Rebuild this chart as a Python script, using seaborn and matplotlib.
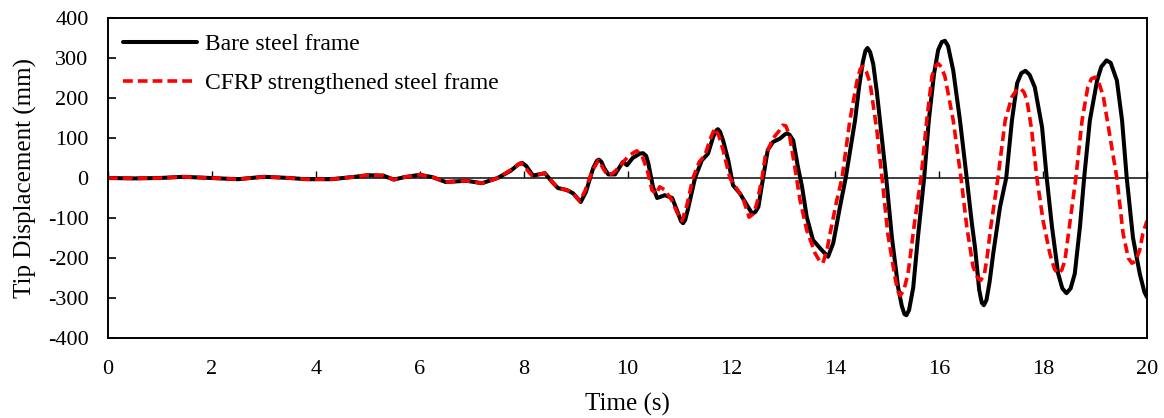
import numpy as np
import pandas as pd
import matplotlib
matplotlib.use("Agg")
import matplotlib.pyplot as plt
import seaborn as sns

# ---------------- data ----------------
bare_t = [0, 0.5, 1.0, 1.45, 2.0, 2.5, 3.0, 3.5, 3.8, 4.3, 4.75, 5.0, 5.3, 5.5, 5.7, 6.0, 6.25,
          6.5, 6.9, 7.2, 7.5, 7.75, 7.90, 7.97, 8.05, 8.18, 8.41, 8.55, 8.66, 8.83, 8.95, 9.10,
          9.20, 9.28, 9.34, 9.41, 9.45, 9.50, 9.55, 9.63, 9.76, 9.91, 9.99, 10.10, 10.24, 10.30,
          10.36, 10.40, 10.49, 10.57, 10.72, 10.86, 10.95, 11.03, 11.07, 11.11, 11.16, 11.30,
          11.43, 11.55, 11.65, 11.71, 11.74, 11.78, 11.84, 11.94, 12.03, 12.16, 12.30, 12.38,
          12.42, 12.46, 12.52, 12.61, 12.70, 12.80, 12.94, 13.02, 13.07, 13.12, 13.19, 13.28,
          13.36, 13.45, 13.57, 13.71, 13.86, 13.96, 14.09, 14.20, 14.30, 14.38, 14.46, 14.53,
          14.58, 14.62, 14.67, 14.73, 14.80, 14.86, 14.98, 15.09, 15.21, 15.28, 15.33, 15.37,
          15.42, 15.50, 15.59, 15.71, 15.80, 15.90, 15.98, 16.05, 16.11, 16.17, 16.27, 16.40,
          16.53, 16.63, 16.69, 16.77, 16.82, 16.86, 16.91, 16.97, 17.04, 17.17, 17.29, 17.40,
          17.50, 17.58, 17.66, 17.74, 17.84, 17.98, 18.07, 18.17, 18.29, 18.37, 18.45, 18.53,
          18.61, 18.71, 18.79, 18.90, 19.04, 19.12, 19.22, 19.30, 19.42, 19.52, 19.61, 19.73,
          19.86, 19.95, 20.0]
bare_disp = [0, -1, 0, 3, 0, -3, 3, 0, -3, -3, 3, 7, 6, -4, 2, 8, 2,
             -10, -7, -13, 0, 18, 34, 38, 30, 6, 12, -10, -25, -30, -38, -60,
             -35, 0, 25, 43, 46, 40, 25, 9, 9, 40, 32, 50, 61, 62,
             55, 37, -22, -50, -43, -50, -80, -108, -113, -105, -80, 0,
             44, 61, 103, 119, 122, 116, 94, 44, -18, -38, -68, -85,
             -88, -85, -72, 0, 70, 90, 99, 108, 112, 108, 94, 28,
             -22, -97, -155, -176, -197, -163, -72, 0, 80, 144, 230, 290,
             318, 325, 315, 285, 215, 144, 0, -149, -274, -320, -340, -343,
             -330, -274, -149, 0, 144, 260, 320, 340, 343, 330, 269, 144,
             0, -115, -174, -280, -312, -318, -305, -260, -189, -73, 0, 144,
             237, 262, 268, 258, 227, 127, 0, -121, -239, -276, -288, -276,
             -239, -121, 0, 144, 244, 278, 294, 288, 244, 144, 0, -149,
             -239, -285, -298]

cfrp_t = [0, 0.5, 1.0, 1.45, 2.0, 2.5, 3.0, 3.5, 3.8, 4.3, 4.75, 5.0, 5.3, 5.5, 5.7, 6.0, 6.25,
          6.5, 6.9, 7.2, 7.5, 7.75, 7.95, 8.16, 8.41, 8.55, 8.66, 8.83, 8.95, 9.08, 9.18, 9.27,
          9.34, 9.44, 9.54, 9.62, 9.72, 9.85, 9.95, 10.05, 10.18, 10.28, 10.38, 10.47, 10.55,
          10.62, 10.72, 10.85, 10.95, 11.05, 11.14, 11.26, 11.38, 11.49, 11.60, 11.68, 11.76,
          11.84, 11.97, 12.10, 12.22, 12.34, 12.42, 12.49, 12.59, 12.65, 12.80, 12.92, 12.99,
          13.05, 13.12, 13.22, 13.32, 13.45, 13.61, 13.70, 13.76, 13.84, 13.90, 14.03, 14.13,
          14.28, 14.42, 14.48, 14.53, 14.60, 14.67, 14.80, 14.90, 15.01, 15.15, 15.20, 15.25,
          15.32, 15.40, 15.53, 15.65, 15.76, 15.86, 15.93, 15.98, 16.04, 16.11, 16.27, 16.42,
          16.53, 16.65, 16.74, 16.80, 16.87, 16.92, 16.99, 17.13, 17.27, 17.40, 17.50, 17.56,
          17.63, 17.69, 17.78, 17.88, 18.00, 18.13, 18.22, 18.29, 18.36, 18.42, 18.52, 18.63,
          18.75, 18.86, 18.93, 19.00, 19.07, 19.16, 19.29, 19.42, 19.54, 19.64, 19.71, 19.78,
          19.86, 19.92, 20.0]
cfrp_disp = [0, -1, 0, 3, 0, -3, 3, 0, -3, -3, 3, 7, 6, -4, 2, 8, 2,
             -10, -7, -13, 0, 20, 38, 6, 12, -10, -25, -30, -38, -58, -33, 0,
             22, 44, 22, 6, 12, 28, 45, 58, 68, 55, 20, -30, -40,
             -22, -30, -55, -85, -107, -70, 0, 40, 57, 100, 124, 105,
             70, 0, -26, -50, -98, -90, -64, 0, 53, 99, 118, 132,
             130, 105, 28, -55, -130, -188, -208, -213, -180, -138, -55, 0,
             144, 244, 272, 279, 265, 237, 119, 0, -139, -249, -282, -294,
             -280, -239, -107, 0, 144, 254, 280, 286, 278, 254, 144, 0,
             -121, -221, -250, -256, -240, -200, -125, 0, 144, 203, 222, 224,
             215, 194, 120, 0, -107, -189, -228, -239, -230, -206, -107, 0,
             144, 227, 248, 252, 240, 203, 102, 0, -139, -200, -213, -208,
             -180, -139, -107]

series_labels = ["Bare steel frame", "CFRP strengthened steel frame"]
x_ticks = [0, 2, 4, 6, 8, 10, 12, 14, 16, 18, 20]
y_ticks = [-400, -300, -200, -100, 0, 100, 200, 300, 400]

# ---------------- plotting ----------------
sns.set_theme(style="white")
plt.rcParams["font.family"] = ["Liberation Serif", "DejaVu Serif"]

fig = plt.figure(figsize=(11.64, 4.18), dpi=100)
ax = fig.add_axes([108 / 1164, 1 - 338 / 418, (1147 - 108) / 1164, (338 - 18) / 418])

df_bare = pd.DataFrame({"t": bare_t, "d": bare_disp})
df_cfrp = pd.DataFrame({"t": cfrp_t, "d": cfrp_disp})

sns.lineplot(data=df_bare, x="t", y="d", ax=ax, color="black", linewidth=2.9,
             sort=False, estimator=None, label=series_labels[0])
sns.lineplot(data=df_cfrp, x="t", y="d", ax=ax, color="#ff0000", linewidth=2.6,
             sort=False, estimator=None, label=series_labels[1])
for ln in ax.lines:
    ln.set_solid_joinstyle("round")
    ln.set_dash_joinstyle("round")
ax.lines[-1].set_dashes([2.7, 1.4])

ax.set_xlim(x_ticks[0], x_ticks[-1])
ax.set_ylim(y_ticks[0], y_ticks[-1])
ax.set_xticks(x_ticks)
ax.set_yticks(y_ticks)
ax.set_xticklabels([str(v) for v in x_ticks])
ax.set_yticklabels([str(v) for v in y_ticks])

for s in ax.spines.values():
    s.set_visible(True)
    s.set_color("black")
    s.set_linewidth(1.4)

ax.tick_params(axis="x", which="both", length=0, pad=16, labelsize=16, colors="black")
ax.tick_params(axis="y", which="both", direction="in", length=6, width=1.2, pad=14,
               labelsize=16, colors="black", left=True)

# horizontal axis crossing at zero, with its own tick marks (Excel-style)
sec = ax.secondary_xaxis(0.5)
sec.set_xticks(x_ticks)
sec.set_xticklabels([])
sec.tick_params(direction="out", length=5, width=1.0, labelbottom=False,
                labeltop=False, colors="black")
sec.spines["bottom"].set_linewidth(1.4)
sec.spines["bottom"].set_color("black")

ax.set_xlabel("Time (s)", fontsize=18, labelpad=10, color="black")
ax.set_ylabel("Tip Displacement (mm)", fontsize=18, labelpad=8, color="black")
ax.grid(False)

leg = ax.legend(loc="upper left", frameon=False, fontsize=17, handlelength=3.1,
                handletextpad=0.35, labelspacing=0.75, borderaxespad=0.25,
                bbox_to_anchor=(0.0, 1.0))
for t in leg.get_texts():
    t.set_color("black")

fig.savefig("out.png", dpi=100, facecolor="white")
